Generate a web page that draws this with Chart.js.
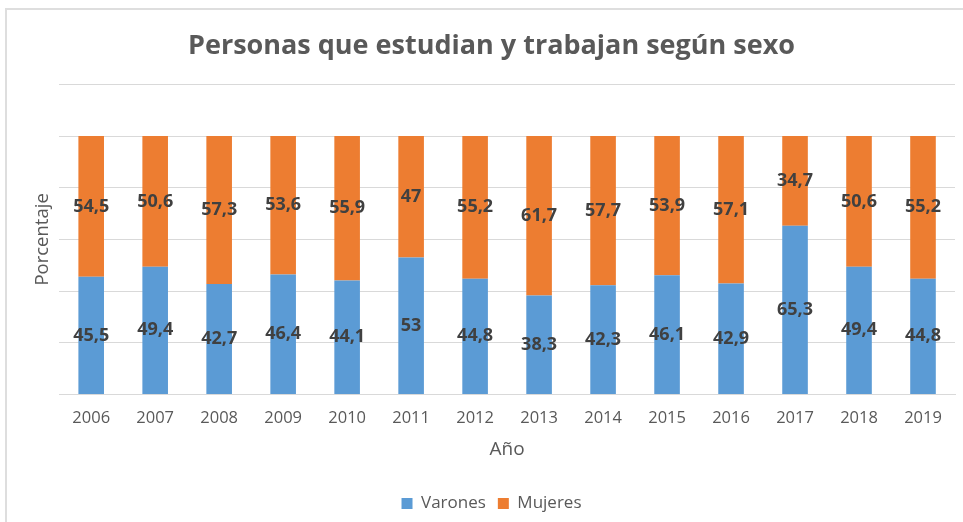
<!DOCTYPE html>
<html lang="es">
<head>
<meta charset="utf-8">
<script src="https://cdn.jsdelivr.net/npm/chart.js@4.4.1/dist/chart.umd.min.js"></script>
<style>
  html, body { margin: 0; padding: 0; background: #fff; overflow: hidden; }
  #wrap { position: relative; width: 963px; height: 522px; }
  #frame { position: absolute; left: 5px; top: 8px; width: 1000px; height: 600px;
           border: 2px solid #dedede; box-sizing: border-box; pointer-events: none; }
  canvas { position: absolute; left: 0; top: 0; }
</style>
</head>
<body>
<div id="wrap">
  <div id="frame"></div>
  <canvas id="chart" width="963" height="522"></canvas>
</div>
<script>
const years = ["2006", "2007", "2008", "2009", "2010", "2011", "2012",
               "2013", "2014", "2015", "2016", "2017", "2018", "2019"];
const varones = [45.5, 49.4, 42.7, 46.4, 44.1, 53, 44.8, 38.3, 42.3, 46.1, 42.9, 65.3, 49.4, 44.8];
const mujeres = [54.5, 50.6, 57.3, 53.6, 55.9, 47, 55.2, 61.7, 57.7, 53.9, 57.1, 34.7, 50.6, 55.2];

const FONT = "'Open Sans', 'Noto Sans', sans-serif";
const GRAY = "#595959";

// etiquetas de valores en el centro de cada segmento
const valueLabels = {
  id: "valueLabels",
  afterDatasetsDraw(chart) {
    const ctx = chart.ctx;
    ctx.save();
    ctx.font = "bold 18px " + FONT;
    ctx.fillStyle = "#404040";
    ctx.textAlign = "center";
    ctx.textBaseline = "middle";
    chart.data.datasets.forEach((ds, i) => {
      chart.getDatasetMeta(i).data.forEach((bar, j) => {
        const txt = String(ds.data[j]).replace(".", ",");
        ctx.fillText(txt, bar.x, (bar.y + bar.base) / 2);
      });
    });
    ctx.restore();
  }
};

new Chart(document.getElementById("chart"), {
  type: "bar",
  data: {
    labels: years,
    datasets: [
      { label: "Varones", data: varones, backgroundColor: "#5b9bd5" },
      { label: "Mujeres", data: mujeres, backgroundColor: "#ed7d31" }
    ]
  },
  options: {
    responsive: false,
    animation: false,
    layout: { padding: { left: 28, right: 8, top: 0, bottom: 0 } },
    datasets: { bar: { barPercentage: 0.4, categoryPercentage: 1 } },
    plugins: {
      title: {
        display: true,
        text: "Personas que estudian y trabajan según sexo",
        color: GRAY,
        font: { family: FONT, size: 27, weight: "bold" },
        padding: { top: 30, bottom: 22 }
      },
      legend: {
        position: "bottom",
        labels: {
          boxWidth: 11, boxHeight: 11, padding: 12,
          color: GRAY,
          font: { family: FONT, size: 17 }
        }
      },
      tooltip: { enabled: false }
    },
    scales: {
      x: {
        stacked: true,
        grid: { display: false },
        border: { color: "#d9d9d9" },
        ticks: { color: GRAY, font: { family: FONT, size: 16.5 }, padding: 6 },
        title: {
          display: true, text: "Año", color: GRAY,
          font: { family: FONT, size: 19 }, padding: { top: 4, bottom: 22 }
        }
      },
      y: {
        stacked: true,
        min: 0, max: 120,
        ticks: { display: false, stepSize: 20 },
        grid: { color: "#d9d9d9", drawTicks: false },
        border: { display: false },
        title: {
          display: true, text: "Porcentaje", color: GRAY,
          font: { family: FONT, size: 18.5 }, padding: { top: 4, bottom: 5 }
        }
      }
    }
  },
  plugins: [valueLabels]
});
</script>
</body>
</html>
